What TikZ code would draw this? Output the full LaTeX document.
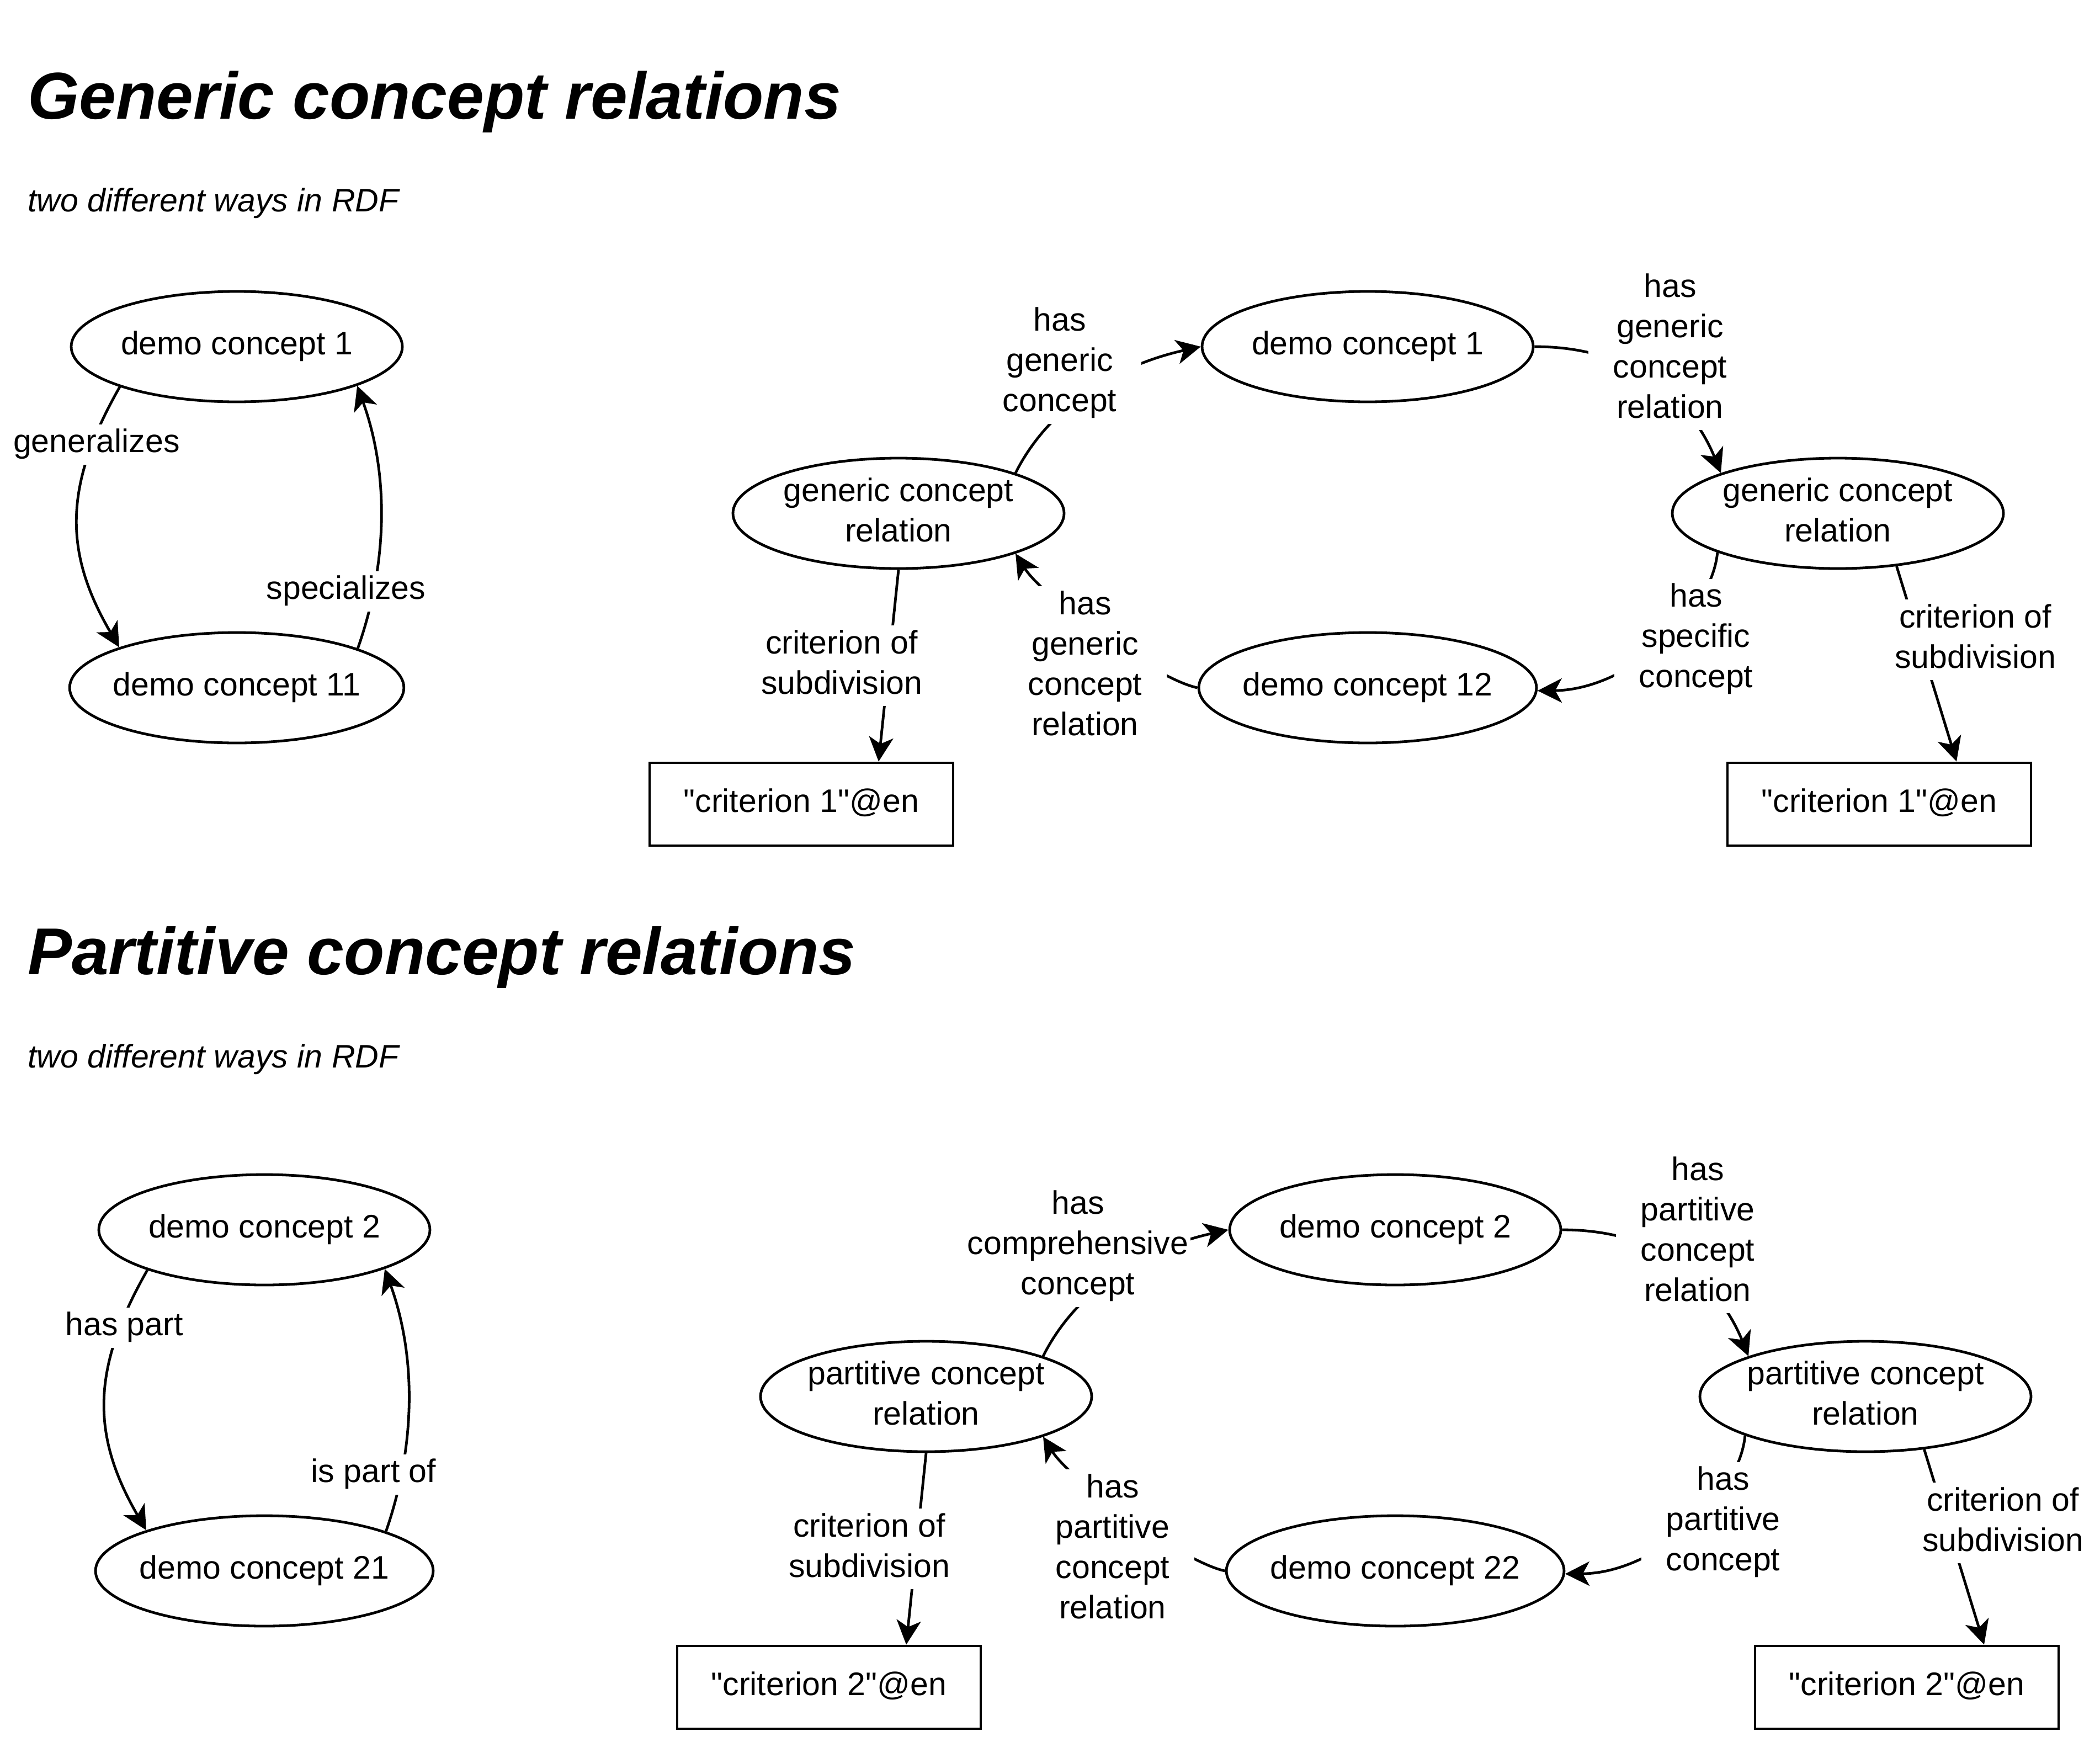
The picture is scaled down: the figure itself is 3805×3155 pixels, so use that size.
\documentclass[tikz,border=0pt]{standalone}
\usepackage{fontspec}
\setmainfont{Liberation Sans}
\newfontfamily\plainsans{Liberation Sans}
\usetikzlibrary{arrows.meta,shapes.geometric}
\newcommand\bodyfont{\plainsans\fontsize{59}{73}\selectfont}
\newcommand\titlefont{\plainsans\fontsize{120}{144}\selectfont\bfseries\itshape}
\begin{document}
\begin{tikzpicture}[x=1pt,y=-1pt,
  concept/.style={ellipse,draw,line width=4.8pt,minimum width=600pt,minimum height=200pt,inner sep=-10pt,align=center,font=\bodyfont},
  literal/.style={rectangle,draw,line width=4.8pt,minimum width=550pt,minimum height=150pt,inner sep=0pt,font=\bodyfont},
  rel/.style={line width=4.8pt,-{Stealth[length=44pt,width=44pt,inset=12pt]}},
  lbl/.style={fill=white,inner xsep=4pt,inner ysep=0pt,minimum width=296pt,align=center,font=\bodyfont},
  heading/.style={anchor=base west,inner sep=0pt,font=\titlefont},
  subheading/.style={anchor=base west,inner sep=0pt,font=\bodyfont\itshape}]
\fill[white] (0,0) rectangle (3805,3155);
\useasboundingbox (0,0) rectangle (3805,3155);

\node[heading] (t1) at (50,215) {Generic concept relations};
\node[subheading] (s1) at (50,383) {two different ways in RDF};
\node[heading] (t2) at (50,1765) {Partitive concept relations};
\node[subheading] (s2) at (50,1934) {two different ways in RDF};

% ---------- generic ----------
\node[concept] (a1) at (429,628) {\strut demo concept 1};
\node[concept] (a11) at (429,1246) {\strut demo concept 11};
\node[concept] (g) at (1628,930) {\strut generic concept\\\strut relation};
\node[concept] (c1) at (2478,628) {\strut demo concept 1};
\node[concept] (c12) at (2478,1246) {\strut demo concept 12};
\node[concept] (g2) at (3330,930) {\strut generic concept\\\strut relation};
\node[literal] (b1) at (1452,1457) {\strut"criterion 1"@en};
\node[literal] (b2) at (3405,1457) {\strut"criterion 1"@en};

\draw[rel] (a1.199) .. controls (115,880) and (115,1000) .. (a11.161);
\draw[rel] (a11.18) .. controls (704,1017) and (704,856) .. (a1.342);
\draw[rel] (g.19) .. controls (1900,737) and (2022,662) .. (c1.west);
\draw[rel] (c1.east) .. controls (2990,628) and (3078,757) .. (g2.161);
\draw[rel] (g2.198) .. controls (3102,1111) and (2950,1250) .. (c12.-1);
\draw[rel] (c12.west) .. controls (2095,1231) and (1890,1083) .. (g.-19);
\draw[rel] (g.south) -- ([xshift=140pt]b1.north);
\draw[rel] (g2.-42) -- ([xshift=140pt]b2.north);

\node[lbl] (lg) at (175,805) {\strut generalizes};
\node[lbl] (ls) at (627,1071) {\strut specializes};
\node[lbl] (l1) at (1920,658) {\strut has\\\strut generic\\\strut concept};
\node[lbl] (l2) at (3026,633) {\strut has\\\strut generic\\\strut concept\\\strut relation};
\node[lbl] (l3) at (3073,1158) {\strut has\\\strut specific\\\strut concept};
\node[lbl] (l4) at (1966,1208) {\strut has\\\strut generic\\\strut concept\\\strut relation};
\node[lbl] (l5) at (1525,1206) {\strut criterion of\\\strut subdivision};
\node[lbl] (l6) at (3579,1159) {\strut criterion of\\\strut subdivision};

% ---------- partitive ----------
\begin{scope}[shift={(50,1600)}]
\node[concept] (p2) at (429,628) {\strut demo concept 2};
\node[concept] (p21) at (429,1246) {\strut demo concept 21};
\node[concept] (q) at (1628,930) {\strut partitive concept\\\strut relation};
\node[concept] (d2) at (2478,628) {\strut demo concept 2};
\node[concept] (d22) at (2478,1246) {\strut demo concept 22};
\node[concept] (q2) at (3330,930) {\strut partitive concept\\\strut relation};
\node[literal] (e1) at (1452,1457) {\strut"criterion 2"@en};
\node[literal] (e2) at (3405,1457) {\strut"criterion 2"@en};

\draw[rel] (p2.199) .. controls (115,880) and (115,1000) .. (p21.161);
\draw[rel] (p21.18) .. controls (704,1017) and (704,856) .. (p2.342);
\draw[rel] (q.19) .. controls (1900,737) and (2022,662) .. (d2.west);
\draw[rel] (d2.east) .. controls (2990,628) and (3078,757) .. (q2.161);
\draw[rel] (q2.198) .. controls (3102,1111) and (2950,1250) .. (d22.-1);
\draw[rel] (d22.west) .. controls (2095,1231) and (1890,1083) .. (q.-19);
\draw[rel] (q.south) -- ([xshift=140pt]e1.north);
\draw[rel] (q2.-42) -- ([xshift=140pt]e2.north);

\node[lbl] (mg) at (175,805) {\strut has part};
\node[lbl] (ms) at (627,1071) {\strut is part of};
\node[lbl] (m1) at (1903,658) {\strut has\\\strut comprehensive\\\strut concept};
\node[lbl] (m2) at (3026,633) {\strut has\\\strut partitive\\\strut concept\\\strut relation};
\node[lbl] (m3) at (3072,1158) {\strut has\\\strut partitive\\\strut concept};
\node[lbl] (m4) at (1966,1208) {\strut has\\\strut partitive\\\strut concept\\\strut relation};
\node[lbl] (m5) at (1525,1206) {\strut criterion of\\\strut subdivision};
\node[lbl] (m6) at (3579,1159) {\strut criterion of\\\strut subdivision};
\end{scope}
\end{tikzpicture}
\end{document}
